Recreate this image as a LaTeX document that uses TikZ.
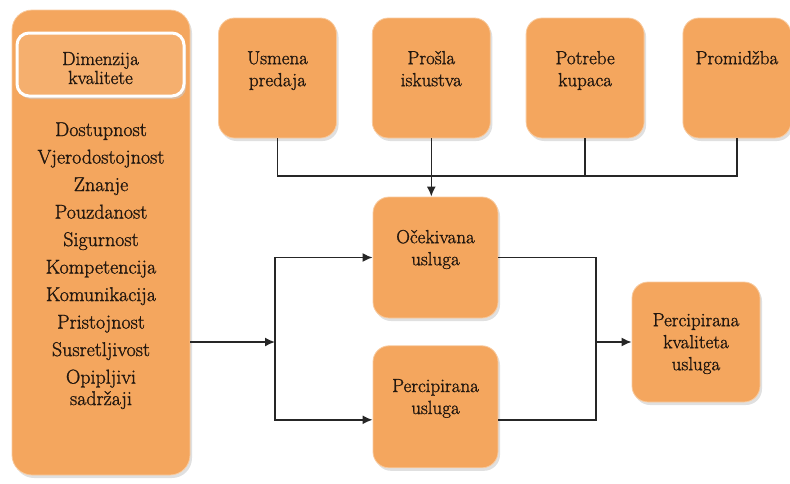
\documentclass[tikz,border=0pt]{standalone}
\usepackage{fontspec}
\newfontfamily\boxfont{Latin Modern Roman}[FakeBold=1.2]
\usepackage{xcolor}
\usetikzlibrary{shapes.geometric, arrows.meta, positioning, shadows}

\definecolor{boxfill}{HTML}{F4A65E}
\definecolor{textdark}{HTML}{22170F}

\begin{document}
\begin{tikzpicture}[x=1pt, y=-1pt, node distance=35pt,
  box/.style={rectangle, rounded corners=16pt, fill=boxfill, draw=boxfill!60!white, line width=0.8pt,
    drop shadow={shadow xshift=2pt, shadow yshift=-3pt, fill=black!20, opacity=0.6}},
  boxtext/.style={anchor=north, align=center, inner sep=0pt, text=textdark, font=\boxfont\fontsize{19}{22}\selectfont},
  line/.style={draw=black!85, line width=1.6pt},
  arr/.style={line, -{Latex[length=10pt, width=9pt]}}]
\useasboundingbox (0,0) rectangle (790,483);

% left column: dimensions of quality
\node (dims) [box, rounded corners=20pt, minimum width=178pt, minimum height=465pt] at (101,242.5) {};
\node (head) [box, draw=white, line width=3pt, fill=boxfill!90!white, rounded corners=12pt, minimum width=167pt, minimum height=63pt] at (100.5,64.5) {};
\node [boxtext, font=\boxfont\fontsize{19}{19}\selectfont, below=20pt of head.north] {\strut Dimenzija\\kvalitete};
\node (items) [boxtext, font=\boxfont\fontsize{20}{27.5}\selectfont, below=107pt of dims.north] {\strut Dostupnost\\Vjerodostojnost\\Znanje\\Pouzdanost\\Sigurnost\\Kompetencija\\Komunikacija\\Pristojnost\\Susretljivost\\Opipljivi\\[-6pt]sadržaji};

% top row
\node (usmena) [box, minimum width=118pt, minimum height=120pt] at (277.5,78) {};
\node (prosla) [box, minimum width=118pt, minimum height=120pt, right=of usmena] {};
\node (potrebe) [box, minimum width=118pt, minimum height=120pt, right=of prosla] {};
\node (promidzba) [box, minimum width=108pt, minimum height=120pt, right=38pt of potrebe] {};
\node [boxtext, below=31pt of usmena.north] {\strut Usmena\\predaja};
\node [boxtext, below=31pt of prosla.north] {\strut Prošla\\iskustva};
\node [boxtext, below=31pt of potrebe.north] {\strut Potrebe\\kupaca};
\node [boxtext, below=31pt of promidzba.north] {\strut Promidžba};

% middle and right
\node (ocekivana) [box, minimum width=125pt, minimum height=121pt] at (435.5,257.5) {};
\node (percipirana) [box, minimum width=125pt, minimum height=122pt, below=27pt of ocekivana] {};
\node (kvaliteta) [box, minimum width=128pt, minimum height=120pt] at (696,342) {};
\node [boxtext, below=31pt of ocekivana.north] {\strut Očekivana\\usluga};
\node [boxtext, below=31pt of percipirana.north] {\strut Percipirana\\usluga};
\node [boxtext, below=29pt of kvaliteta.north] {\strut Percipirana\\kvaliteta\\usluga};

\coordinate (bus) at (0,176);
\coordinate (split) at (275,342);
\coordinate (merge) at (596,342);

\draw[line] (usmena.south) |- (promidzba.south |- bus) -- (promidzba.south);
\draw[line] (potrebe.south) -- (potrebe.south |- bus);
\draw[arr] (prosla.south) -- (prosla.south |- ocekivana.north);

\draw[arr] (dims.east |- split) -- (split);
\draw[arr] (split) |- (ocekivana.west);
\draw[arr] (split) |- ([yshift=-13pt]percipirana.west);

\draw[line] (ocekivana.east) -| (merge) |- ([yshift=-13pt]percipirana.east);
\draw[arr] (merge) -- (kvaliteta.west);
\end{tikzpicture}
\end{document}
